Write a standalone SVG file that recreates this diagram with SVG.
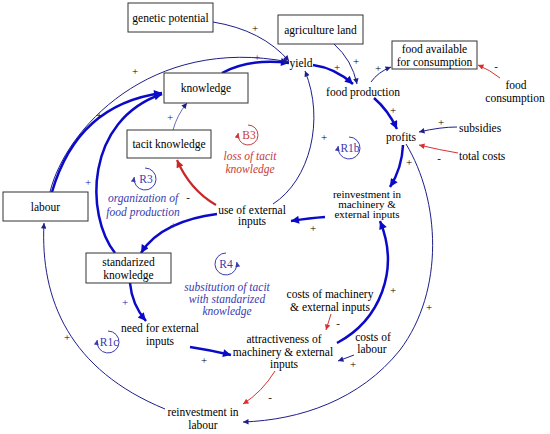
<svg xmlns="http://www.w3.org/2000/svg" width="550" height="434" viewBox="0 0 550 434" font-family="'Liberation Serif','Times New Roman',serif">
<style>
text{font-family:"Liberation Serif","DejaVu Serif","Times New Roman",serif}
.t{font-size:11.5px;fill:#000;text-anchor:middle}
.lb{font-style:italic;fill:#3a3ab0}
.lr{font-style:italic;fill:#c83a3a}
.box{fill:#fff;stroke:#333;stroke-width:1}
.thin{fill:none;stroke:#1e1e8c;stroke-width:1}
.thick{fill:none;stroke:#0a0ac8;stroke-width:2.5}
.red{fill:none;stroke:#d83030;stroke-width:1}
.redk{fill:none;stroke:#c82828;stroke-width:2.2}
.sg{font-size:11px;text-anchor:middle;fill:#000}
.sb{fill:#2020b0}
.loopb{fill:none;stroke:#3a3ab0;stroke-width:1}
.loopr{fill:none;stroke:#c83a3a;stroke-width:1}
</style>
<defs>
<marker id="ab" viewBox="0 0 10 10" refX="10" refY="5" markerUnits="userSpaceOnUse" markerWidth="8" markerHeight="5.5" orient="auto"><path d="M0,0 L10,5 L0,10 z" fill="#1e1e8c"/></marker>
<marker id="abk" viewBox="0 0 10 10" refX="10" refY="5" markerUnits="userSpaceOnUse" markerWidth="12" markerHeight="8" orient="auto"><path d="M0,0 L10,5 L0,10 z" fill="#0a0ac8"/></marker>
<marker id="ar" viewBox="0 0 10 10" refX="10" refY="5" markerUnits="userSpaceOnUse" markerWidth="8" markerHeight="5.5" orient="auto"><path d="M0,0 L10,5 L0,10 z" fill="#d83030"/></marker>
<marker id="ark" viewBox="0 0 10 10" refX="10" refY="5" markerUnits="userSpaceOnUse" markerWidth="11" markerHeight="7.5" orient="auto"><path d="M0,0 L10,5 L0,10 z" fill="#c82828"/></marker>
<marker id="alb" viewBox="0 0 10 10" refX="10" refY="5" markerUnits="userSpaceOnUse" markerWidth="6" markerHeight="5" orient="auto"><path d="M0,0 L10,5 L0,10 z" fill="#3a3ab0"/></marker>
<marker id="alr" viewBox="0 0 10 10" refX="10" refY="5" markerUnits="userSpaceOnUse" markerWidth="6" markerHeight="5" orient="auto"><path d="M0,0 L10,5 L0,10 z" fill="#c83a3a"/></marker>
</defs>
<rect width="550" height="434" fill="#fff"/>

<g id="connectors">
<path class="thin" d="M213 22 Q262 30 289 61" marker-end="url(#ab)"/>
<path class="thin" d="M334 44 Q352 60 357 84" marker-end="url(#ab)"/>
<path class="thick" d="M313 65 Q335 68 353 84" marker-end="url(#abk)"/>
<path class="thin" d="M371 82 Q378 72 391 67" marker-end="url(#ab)"/>
<path class="red" d="M500 78 Q490 70 478 65" marker-end="url(#ar)"/>
<path class="thick" d="M374 98 Q388 110 397 129" marker-end="url(#abk)"/>
<path class="thin" d="M457 127 Q440 127 419 132" marker-end="url(#ab)"/>
<path class="red" d="M458 153 Q440 150 419 145" marker-end="url(#ar)"/>
<path class="thick" d="M403 145 Q402 168 390 187" marker-end="url(#abk)"/>
<path class="thin" d="M406 144 C440 200 445 290 400 350 C360 400 300 420 243 422" marker-end="url(#ab)"/>
<path class="thick" d="M325 217 Q310 218 291 221" marker-end="url(#abk)"/>
<path class="thin" d="M273 204 C310 180 325 120 305 71" marker-end="url(#ab)"/>
<path class="redk" d="M216 205 Q190 190 177 160" marker-end="url(#ark)"/>
<path class="thin" d="M173 130 Q177 115 187 103" marker-end="url(#ab)" style="stroke:#6a6ab8"/>
<path class="thick" d="M222 73 Q250 58 289 63" marker-end="url(#abk)"/>
<path class="thin" d="M50 192 C65 130 150 35 289 62" marker-end="url(#ab)"/>
<path class="thick" d="M52 192 C70 130 110 100 162 93" marker-end="url(#abk)"/>
<path class="thick" d="M115 253 C85 215 85 120 162 94" marker-end="url(#abk)"/>
<path class="thick" d="M217 214 C185 218 155 230 141 253" marker-end="url(#abk)"/>
<path class="thin" d="M165 409 C70 370 40 300 44 223" marker-end="url(#ab)"/>
<path class="thick" d="M130 283 Q132 305 146 321" marker-end="url(#abk)"/>
<path class="thick" d="M190 347 Q210 350 231 355" marker-end="url(#abk)"/>
<path class="thick" d="M337 343 C380 320 400 270 380 221" marker-end="url(#abk)"/>
<path class="red" d="M331 314 L326 330" marker-end="url(#ar)"/>
<path class="thin" d="M354 355 L338 361" marker-end="url(#ab)"/>
<path class="red" d="M275 371 Q262 392 243 404" marker-end="url(#ar)"/>
<text class="sg" x="255" y="32">+</text>
<text class="sg" x="356" y="65">+</text>
<text class="sg" x="337" y="71">+</text>
<text class="sg" x="378" y="72">+</text>
<text class="sg" x="496" y="70">-</text>
<text class="sg" x="393" y="114">+</text>
<text class="sg" x="441" y="126">+</text>
<text class="sg" x="439" y="162">-</text>
<text class="sg" x="409" y="166">+</text>
<text class="sg" x="429" y="311">+</text>
<text class="sg" x="313" y="232">+</text>
<text class="sg" x="324" y="141">+</text>
<text class="sg" x="188" y="201">-</text>
<text class="sg sb" x="170" y="121">+</text>
<text class="sg sb" x="257" y="61">+</text>
<text class="sg" x="135" y="75">+</text>
<text class="sg" x="99" y="119">+</text>
<text class="sg sb" x="88" y="186">+</text>
<text class="sg sb" x="173" y="229">+</text>
<text class="sg" x="67" y="341">+</text>
<text class="sg sb" x="125" y="306">+</text>
<text class="sg" x="204" y="364">+</text>
<text class="sg" x="393" y="294">+</text>
<text class="sg" x="338" y="327">-</text>
<text class="sg" x="353" y="368">+</text>
<text class="sg" x="270" y="401">-</text>
</g>

<g id="genetic-potential"><rect class="box" x="128" y="3" width="85" height="29"/><text class="t" x="170.5" y="22">genetic potential</text></g>
<g id="agriculture-land"><rect class="box" x="278" y="15" width="85" height="29"/><text class="t" x="320.5" y="34">agriculture land</text></g>
<g id="food-available"><rect class="box" x="392" y="41" width="85" height="28"/><text class="t" x="434.5" y="53">food available</text><text class="t" x="434.5" y="66">for consumption</text></g>
<g id="knowledge"><rect class="box" x="164" y="73" width="84" height="30"/><text class="t" x="206" y="92">knowledge</text></g>
<g id="tacit-knowledge"><rect class="box" x="127" y="130" width="84" height="28"/><text class="t" x="169" y="148">tacit knowledge</text></g>
<g id="labour"><rect class="box" x="3" y="192" width="85" height="29"/><text class="t" x="45.5" y="211">labour</text></g>
<g id="standarized-knowledge"><rect class="box" x="86" y="253" width="85" height="30"/><text class="t" x="128.5" y="266">standarized</text><text class="t" x="128.5" y="279">knowledge</text></g>

<g id="yield"><text class="t" x="301" y="67">yield</text></g>
<g id="food-production"><text class="t" x="363" y="96">food production</text></g>
<g id="profits"><text class="t" x="401" y="141">profits</text></g>
<g id="subsidies"><text class="t" x="459" y="132" style="text-anchor:start">subsidies</text></g>
<g id="total-costs"><text class="t" x="459" y="160" style="text-anchor:start">total costs</text></g>
<g id="food-consumption"><text class="t" x="516" y="89">food</text><text class="t" x="515" y="102">consumption</text></g>
<g id="reinvestment-machinery"><text class="t" x="367" y="197.5" style="font-size:11px">reinvestment in</text><text class="t" x="367" y="207.5" style="font-size:11px">machinery &amp;</text><text class="t" x="367" y="217.5" style="font-size:11px">external inputs</text></g>
<g id="use-external-inputs"><text class="t" x="252" y="214">use of external</text><text class="t" x="252" y="225">inputs</text></g>
<g id="need-external-inputs"><text class="t" x="160" y="332">need for external</text><text class="t" x="160" y="345">inputs</text></g>
<g id="attractiveness"><text class="t" x="284" y="343">attractiveness of</text><text class="t" x="283" y="356">machinery &amp; external</text><text class="t" x="284" y="368">inputs</text></g>
<g id="costs-machinery"><text class="t" x="330" y="298">costs of machinery</text><text class="t" x="330" y="311">&amp; external inputs</text></g>
<g id="costs-labour"><text class="t" x="373" y="341">costs of</text><text class="t" x="372" y="353">labour</text></g>
<g id="reinvestment-labour"><text class="t" x="203" y="416">reinvestment in</text><text class="t" x="203" y="429">labour</text></g>

<g id="loop-B3">
<path class="loopr" d="M248 125 A10 10 0 1 1 238.2 133" marker-end="url(#alr)"/>
<text class="t" x="249" y="139" style="fill:#c83a3a">B3</text>
<text class="t lr" x="250" y="160">loss of tacit</text><text class="t lr" x="250" y="173">knowledge</text>
</g>
<g id="loop-R3">
<path class="loopb" d="M145 168 A11 11 0 1 1 134.2 177" marker-end="url(#alb)"/>
<text class="t" x="146" y="183" style="fill:#3a3ab0">R3</text>
<text class="t lb" x="143" y="202">organization of</text><text class="t lb" x="143" y="216">food production</text>
</g>
<g id="loop-R1b">
<path class="loopb" d="M349 137 A11 11 0 1 1 338.2 146" marker-end="url(#alb)"/>
<text class="t" x="350" y="152" style="fill:#3a3ab0">R1b</text>
</g>
<g id="loop-R4">
<path class="loopb" d="M226 253 A11 11 0 1 0 236.8 262" marker-end="url(#alb)"/>
<text class="t" x="226" y="268" style="fill:#3a3ab0">R4</text>
<text class="t lb" x="227" y="291">subsitution of tacit</text><text class="t lb" x="227" y="303">with standarized</text><text class="t lb" x="227" y="315">knowledge</text>
</g>
<g id="loop-R1c">
<path class="loopb" d="M108 331 A11 11 0 1 1 97.2 340" marker-end="url(#alb)"/>
<text class="t" x="109" y="346" style="fill:#3a3ab0">R1c</text>
</g>
</svg>
